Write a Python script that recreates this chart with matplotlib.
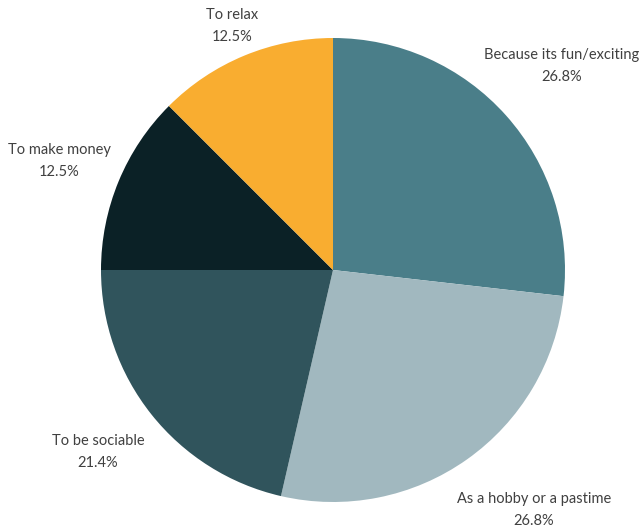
import numpy as np
import matplotlib
matplotlib.use('Agg')
import matplotlib.pyplot as plt

# reasons for playing, share of respondents (%)
reasons = ['Because its fun/exciting', 'As a hobby or a pastime', 'To be sociable',
           'To make money', 'To relax']
shares = [26.8, 26.8, 21.4, 12.5, 12.5]
colors = ['#4a7e89', '#a1b8bf', '#30545c', '#0b2126', '#f9ad30']

# label placement: distance from centre (radii) and angle nudge (deg)
label_dist = [1.32, 1.35, 1.28, 1.27, 1.14]
label_nudge = [0.0, -4.6, 0.8, -0.8, 0.0]

plt.rcParams['font.family'] = ['Lato', 'DejaVu Sans']

fig = plt.figure(figsize=(6.42, 5.32), dpi=100)
ax = fig.add_axes([0, 0, 1, 1])

R = 232.0
wedges, _ = ax.pie(shares, colors=colors, startangle=90, counterclock=False,
                   radius=1.0, wedgeprops=dict(linewidth=0))

total = sum(shares)
start = 0.0
for name, val, d, nudge in zip(reasons, shares, label_dist, label_nudge):
    mid = np.deg2rad((start + val / 2) / total * 360 + nudge)
    start += val
    x, y = d * np.sin(mid), d * np.cos(mid)
    ax.text(x, y, f'{name}\n{val:.1f}%', ha='center', va='center',
            fontsize=10.5, color='#404040', linespacing=1.75)

ax.set_xlim(-333 / R, (642 - 333) / R)
ax.set_ylim((270 - 532) / R, 270 / R)
ax.set_aspect('auto')
ax.axis('off')

fig.savefig('out.png', dpi=100, facecolor='white')
